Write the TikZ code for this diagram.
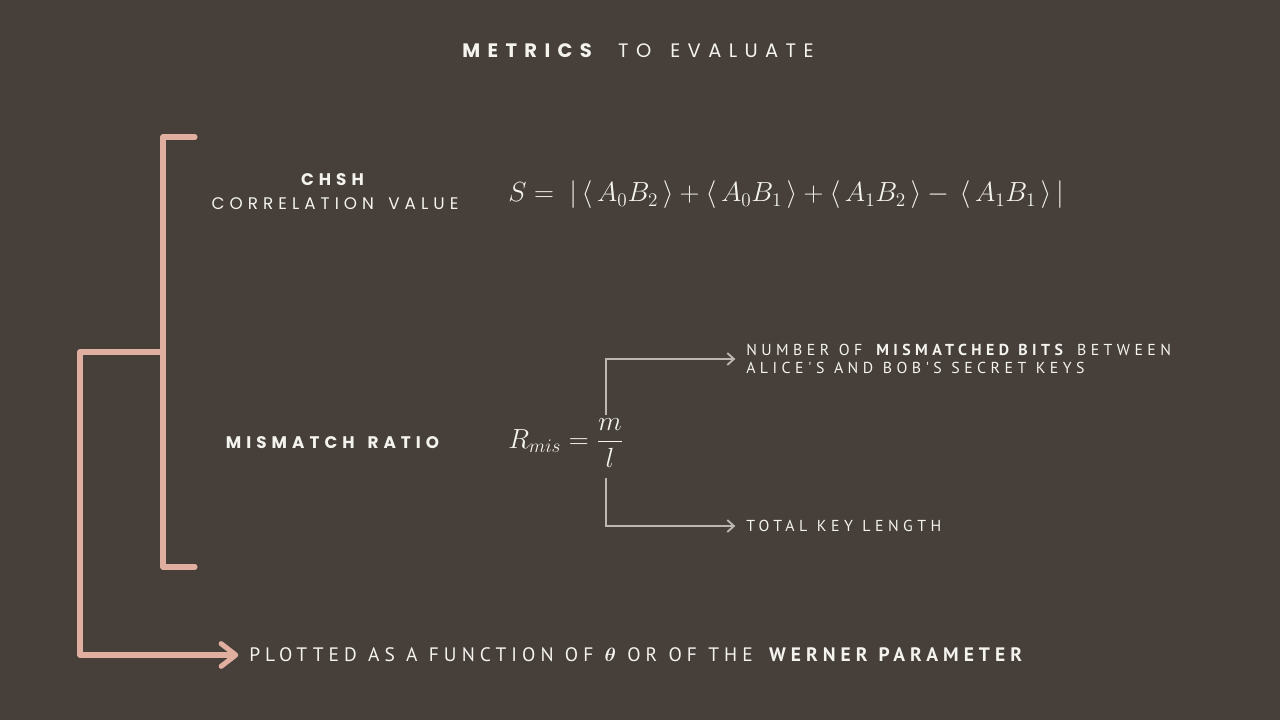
\documentclass[tikz,border=0pt]{standalone}
\usepackage{amsmath,bm}
\usepackage{fontspec}
\setmainfont{Poppins}
\newfontfamily\headfont{Poppins}[LetterSpace=38, WordSpace=1.5]
\newfontfamily\metricfont{Poppins}[LetterSpace=30, WordSpace=1.5]
\newfontfamily\notefont{PT Sans}[LetterSpace=28, WordSpace=1.1]
\newfontfamily\plotfont{PT Sans}[LetterSpace=26, WordSpace=1.1]
\usetikzlibrary{arrows.meta}
\definecolor{bgbrown}{HTML}{463F3A}
\definecolor{salmon}{HTML}{E0AFA0}
\definecolor{ivory}{HTML}{F4F3EE}
\definecolor{ash}{HTML}{BCB8B1}
\tikzset{bracket/.style={draw=salmon, line width=3.8pt, line cap=round, line join=round}}
\tikzset{pointer/.style={draw=ash, line width=1.4pt, -{Straight Barb[length=5pt, width=9pt]}, shorten >=8pt}}
\tikzset{headline/.style={text=ivory, font=\headfont\fontsize{14.6}{16}\selectfont}}
\tikzset{metric/.style={text=ivory, align=center, font=\metricfont\fontsize{12.6}{18}\selectfont}}
\tikzset{formula/.style={text=ivory, anchor=west, inner sep=0pt, font=\fontsize{19.5}{24}\selectfont}}
\tikzset{note/.style={text=ivory, anchor=west, align=left, inner sep=0pt, font=\notefont\fontsize{11.9}{13.5}\selectfont}}

\begin{document}
\begin{tikzpicture}[x=0.75pt, y=-0.75pt]
\path [fill=bgbrown] (0,0) rectangle (1280,720);
\node [headline] (title) at (638,51) {\textbf{METRICS} TO EVALUATE};
% the two metrics
\node [metric] (chsh) at (335,192) {\textbf{CHSH}\\CORRELATION VALUE};
\node [metric] (mismatch) at (335,443) {\textbf{MISMATCH RATIO}};
\node [formula] (chshform) at (508,195)
  {$S =\; \lvert\,\langle\, A_0B_2 \,\rangle + \langle\, A_0B_1 \,\rangle + \langle\, A_1B_2 \,\rangle -\, \langle\, A_1B_1 \,\rangle\,\rvert$};
\node [formula] (ratio) at (508,443) {$R_{mis} = \dfrac{m}{l}$};
% notes on the ratio
\node [note] (numtext) at (746,359) {NUMBER OF \textbf{MISMATCHED BITS} BETWEEN\\ALICE'S AND BOB'S SECRET KEYS};
\node [note] (lentext) at (746,526) {TOTAL KEY LENGTH};
\node [note, font=\plotfont\fontsize{14.6}{16}\selectfont] (plot) at (249,655)
  {PLOTTED AS A FUNCTION OF $\bm{\theta}$ OR OF THE \textbf{WERNER PARAMETER}};
\coordinate (mtop) at (606,415);
\coordinate (lbot) at (606,478);
\draw [pointer] (mtop) |- (numtext.west);
\draw [pointer] (lbot) |- (lentext.west);
% bracket and the arrow out of it
\coordinate (brtop) at (195,137);
\coordinate (brbot) at (195,567);
\coordinate (branch) at (163,352);
\coordinate (corner) at (80,352);
\draw [bracket] (brtop) -| (branch) |- (brbot);
\draw [bracket, -{Straight Barb[length=11pt, width=17pt, round]}, shorten >=8pt] (branch) -- (corner) |- (plot.west);
\end{tikzpicture}
\end{document}
